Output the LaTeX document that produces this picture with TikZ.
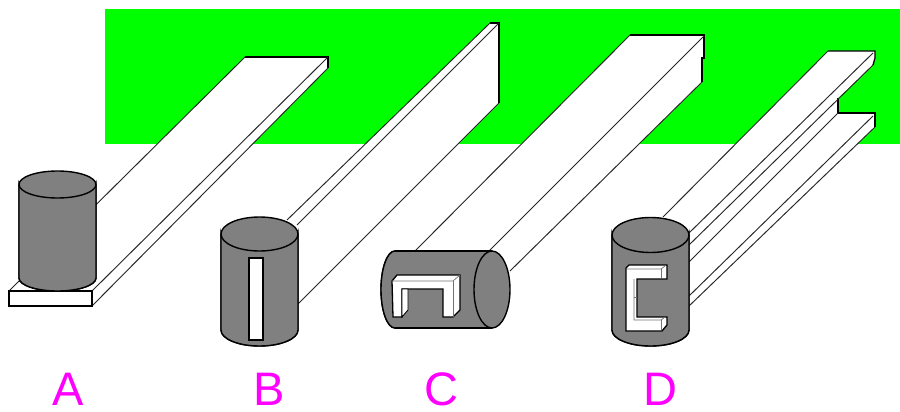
\documentclass[tikz,border=0pt]{standalone}
\usepackage{fontspec}
\setmainfont{Liberation Sans}
\definecolor{bggreen}{HTML}{00FF00}
\definecolor{cylgrey}{HTML}{808080}
\definecolor{lblmag}{HTML}{FF00FF}
\tikzset{
  beamface/.style={fill=white,draw=black,line width=1.1pt,line join=miter},
  edgeline/.style={draw=black!85,line width=0.95pt},
  heavy/.style={draw=black,line width=1.3pt},
  cylbody/.style={fill=cylgrey,draw=black,line width=1.4pt},
  slotface/.style={fill=white,draw=black,line width=1.3pt,line join=miter},
  thinedge/.style={line width=0.7pt,draw=black!55},
  tagtext/.style={text=lblmag,font=\fontsize{47}{50}\selectfont,inner sep=0pt,anchor=base}
}
% vertical cylinder: centre x, top ellipse centre y, top ry, bottom centre y, bottom ry
\newcommand{\VCyl}[5]{
  \fill[cylbody] (#1-38.5,#2) -- (#1-38.5,#4)
     arc[start angle=180,end angle=0,x radius=38.5,y radius=#5]
     -- (#1+38.5,#2) arc[start angle=0,end angle=180,x radius=38.5,y radius=#3] -- cycle;
  \draw[cylbody] (#1-38.5,#2) -- (#1-38.5,#4)
     arc[start angle=180,end angle=0,x radius=38.5,y radius=#5] -- (#1+38.5,#2);
  \draw[cylbody] (#1,#2) ellipse[x radius=38.5,y radius=#3];
}
\begin{document}
\begin{tikzpicture}[x=1pt,y=-1pt]
\useasboundingbox (0,0) rectangle (900,412);
\fill[white] (0,0) rectangle (900,412);
\fill[bggreen] (105,9) rectangle (900,144);

% Beam A
\path[fill=white] (9,291) -- (245,57) -- (328,57) -- (328,68) -- (92,306) -- (9,306) -- cycle;
\draw[heavy] (245,57) -- (328,57) -- (328,68);
\draw[edgeline] (9,291) -- (245,57);
\draw[edgeline] (92,291) -- (328,57);
\draw[edgeline] (92,306) -- (328,68);
\draw[slotface,line width=1.1pt] (9,291) rectangle (92,306);

% Beam B
\path[fill=white] (287,220) -- (490,23) -- (499,23) -- (499,103) -- (298,304) -- cycle;
\draw[heavy] (490,23) -- (499,23) -- (499,103);
\draw[edgeline] (287,220) -- (490,23);
\draw[edgeline] (297,225) -- (499,23);
\draw[edgeline] (298,304) -- (499,103);

% Beam C
\path[fill=white] (415,251) -- (630,35) -- (704,35) -- (704,58) -- (702,58) -- (702,82) -- (510,271) -- (488,252) -- cycle;
\draw[heavy] (630,35) -- (704,35) -- (704,58) -- (702,58) -- (702,82);
\draw[edgeline] (415,251) -- (630,35);
\draw[edgeline] (488,252) -- (704,36);
\draw[edgeline] (510,271) -- (702,82);

% Beam D
\path[fill=white] (663,217) -- (828,51) -- (875,51) -- (875,60) -- (873,65) -- (838,98) -- (838,113) -- (875,113) -- (875,127) -- (689,306) -- cycle;
\draw[heavy] (828,51) -- (875,51) -- (875,58) -- (873,65);
\draw[heavy] (838,98) -- (838,113) -- (875,113) -- (875,127);
\draw[edgeline] (663,217) -- (828,51);
\draw[edgeline] (689,233) -- (873,53);
\draw[edgeline] (689,245) -- (873,65);
\draw[edgeline] (689,262) -- (838,113);
\draw[edgeline] (689,296) -- (873,116);
\draw[edgeline] (689,306) -- (875,127);

% Cylinders
\VCyl{57.5}{184.5}{13.5}{278}{13}
\VCyl{259.5}{234}{17}{330}{16}
\VCyl{650.5}{235}{17.5}{330}{16}

% Slot B
\draw[slotface] (249,258) rectangle (263,340);

% Cylinder C (horizontal)
\fill[cylbody] (395,251) -- (492,251) -- (492,328) -- (395,328)
   arc[start angle=90,end angle=270,x radius=14,y radius=38.5] -- cycle;
\draw[cylbody] (395,251) -- (492,251);
\draw[cylbody] (395,328) -- (492,328);
\draw[cylbody] (395,328) arc[start angle=90,end angle=270,x radius=14,y radius=38.5];
\draw[cylbody] (492,289.5) ellipse[x radius=18,y radius=38.5];

% Profile C
\draw[slotface] (392,281) -- (397,275) -- (460,275) -- (460,310) -- (453,317) -- (443,317) -- (443,289) -- (402,289) -- (402,317) -- (393,317) -- cycle;
\draw[thinedge] (392,281) -- (453,281) -- (460,275);
\draw[thinedge] (453,281) -- (453,317);
\path[fill=white,draw=black,line width=0.9pt] (402,289) -- (408,289) -- (408,310) -- (402,317) -- cycle;

% Profile D
\draw[slotface] (626,268) -- (629,265) -- (667,265) -- (667,279) -- (637,279) -- (637,317) -- (667,317) -- (667,325) -- (662,331) -- (626,331) -- cycle;
\draw[thinedge] (627,269) -- (661,269) -- (665,266);
\draw[thinedge] (661,269) -- (661,278);
\draw[thinedge] (634,279) -- (634,320) -- (661,320) -- (665,317);
\draw[thinedge] (661,320) -- (661,330);
\draw[thinedge] (634,297) -- (637,297);

% Labels
\node[tagtext] (tagA) at (68,405.5) {A};
\node[tagtext] (tagB) at (269,405.5) {B};
\node[tagtext] (tagC) at (441,405.5) {C};
\node[tagtext] (tagD) at (660.5,405.5) {D};
\end{tikzpicture}
\end{document}
